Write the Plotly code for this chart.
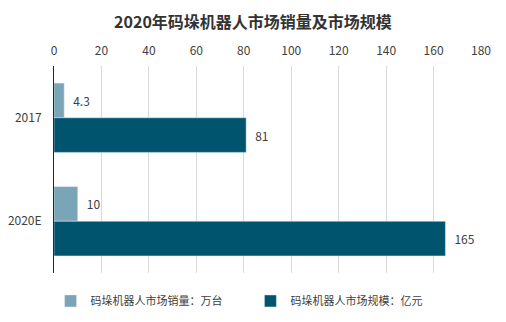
import plotly.graph_objects as go

categories = ["2017", "2020E"]
sales = [4.3, 10]          # 码垛机器人市场销量：万台
market = [81, 165]         # 码垛机器人市场规模：亿元
series_names = ["码垛机器人市场销量：万台", "码垛机器人市场规模：亿元"]
x_ticks = [0, 20, 40, 60, 80, 100, 120, 140, 160, 180]

font_family = "Noto Sans CJK SC, Microsoft YaHei, sans-serif"

fig = go.Figure()
fig.add_trace(go.Bar(
    y=categories, x=sales, orientation="h", name=series_names[0],
    marker_color="#79A5B7", text=["\u2002" + str(v) for v in sales],
    textposition="outside", cliponaxis=False, legend="legend",
    textfont=dict(size=12, color="#404040", family=font_family),
))
fig.add_trace(go.Bar(
    y=categories, x=market, orientation="h", name=series_names[1],
    marker_color="#00546E", text=["\u2002" + str(v) for v in market],
    textposition="outside", cliponaxis=False, legend="legend2",
    textfont=dict(size=12, color="#404040", family=font_family),
))

legend_common = dict(orientation="h", xanchor="left", y=-0.065, yanchor="top",
                     font=dict(size=11, color="#404040"), itemwidth=30,
                     bgcolor="rgba(0,0,0,0)")

fig.update_layout(
    width=506, height=322,
    margin=dict(l=54, r=25, t=66, b=49, autoexpand=False),
    paper_bgcolor="white", plot_bgcolor="white",
    barmode="group", bargap=0.33, bargroupgap=0,
    font=dict(family=font_family, color="#404040", size=12),
    title=dict(text="<b>2020年码垛机器人市场销量及市场规模</b>", x=0.5, xanchor="center",
               y=1 - 22 / 322, yanchor="middle",
               font=dict(size=16, color="#333333", family=font_family)),
    xaxis=dict(side="top", range=[0, 180], tickvals=x_ticks, showgrid=True,
               gridcolor="#D9D9D9", gridwidth=1, zeroline=False, showline=False,
               ticks="", ticklabelstandoff=8, automargin=False,
               tickfont=dict(size=12, color="#404040")),
    yaxis=dict(autorange="reversed", showline=True, linecolor="#262626", linewidth=1,
               ticks="", ticklabelstandoff=9, showgrid=False, automargin=False,
               tickfont=dict(size=12, color="#404040")),
    legend=dict(x=-0.008, **legend_common),
    legend2=dict(x=0.46, **legend_common),
    showlegend=True,
)

fig.write_html("out.html")
